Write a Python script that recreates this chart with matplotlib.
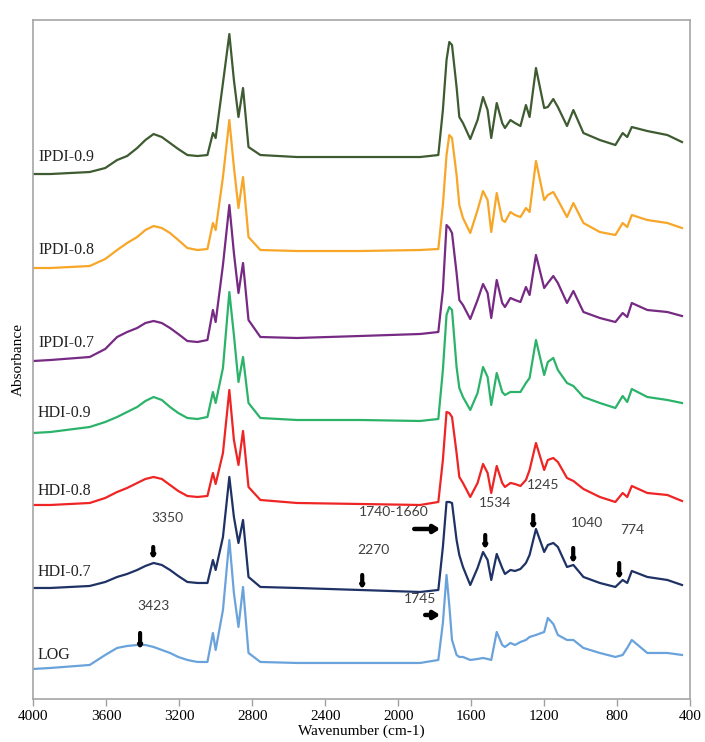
#!/usr/bin/env python3
"""
FTIR spectra of LOG and the HDI / IPDI cured samples (stacked, offset)
"""

import numpy as np
import matplotlib
matplotlib.use('Agg')
import matplotlib.pyplot as plt

# Wavenumber grid (cm-1) the spectra were read at
wavenumber = [4000, 3905, 3690, 3605, 3540, 3485, 3430, 3385, 3340, 3295, 3250, 3205, 3155, 3100,
              3045, 3015, 3000, 2960, 2925, 2900, 2875, 2850, 2820, 2755, 2555, 2210, 1880,
              1780, 1755, 1735, 1720, 1705, 1680, 1665, 1645, 1605, 1565,
              1535, 1510, 1490, 1460, 1430, 1415, 1385, 1360, 1330, 1300,
              1280, 1245, 1200, 1180, 1150, 1125, 1075, 1040, 985, 895,
              810, 770, 745, 720, 635, 525, 445]

# Offset absorbance (x0.01 a.u.) of each spectrum
ipdi_09 = [525, 525, 527, 531, 539, 543, 551, 559, 565, 562, 556, 550, 544, 543,
           544, 566, 561, 616, 665, 619, 582, 611, 552, 544, 542, 542, 542,
           544, 589, 639, 657, 654, 612, 582, 576, 560, 579,
           602, 589, 561, 596, 576, 571, 579, 576, 573, 594,
           582, 631, 591, 592, 600, 592, 573, 589, 566, 559,
           554, 566, 562, 572, 568, 564, 557]
ipdi_08 = [431, 431, 433, 440, 449, 456, 462, 469, 473, 471, 466, 459, 451, 449,
           450, 476, 469, 522, 579, 532, 491, 522, 462, 449, 448, 448, 449,
           450, 494, 544, 564, 561, 524, 494, 481, 466, 489,
           508, 499, 467, 506, 479, 477, 487, 484, 482, 491,
           487, 538, 499, 504, 507, 499, 482, 496, 476, 467,
           464, 476, 472, 484, 479, 476, 471]
ipdi_07 = [338, 339, 342, 350, 362, 367, 371, 376, 378, 376, 371, 365, 358, 357,
           359, 389, 377, 434, 494, 446, 406, 436, 379, 362, 361, 363, 365,
           367, 409, 474, 471, 466, 426, 399, 394, 380, 399,
           415, 406, 381, 419, 396, 392, 401, 399, 397, 412,
           404, 444, 411, 416, 423, 416, 396, 408, 387, 381,
           377, 386, 382, 396, 389, 387, 383]
hdi_09 = [266, 267, 272, 277, 282, 287, 292, 298, 302, 299, 292, 286, 281, 280,
          282, 307, 296, 331, 407, 364, 317, 342, 296, 281, 279, 279, 278,
          280, 329, 384, 392, 389, 332, 311, 302, 289, 306,
          332, 322, 294, 326, 307, 304, 307, 307, 307, 316,
          321, 359, 324, 337, 341, 329, 316, 313, 302, 296,
          291, 303, 297, 310, 302, 299, 296]
hdi_08 = [194, 194, 196, 201, 207, 211, 216, 220, 222, 220, 214, 208, 203, 202,
          203, 226, 215, 246, 309, 259, 234, 268, 212, 199, 196, 195, 194,
          197, 239, 287, 286, 282, 246, 222, 216, 202, 216,
          235, 226, 206, 233, 216, 212, 216, 215, 213, 219,
          229, 256, 229, 239, 241, 237, 221, 218, 210, 202,
          197, 206, 202, 213, 206, 204, 198]
hdi_07 = [111, 111, 113, 117, 122, 125, 129, 133, 136, 134, 129, 123, 117, 116,
          116, 139, 129, 162, 222, 182, 156, 179, 122, 112, 111, 109, 107,
          109, 152, 197, 197, 196, 159, 144, 132, 114, 131,
          147, 139, 119, 145, 131, 125, 129, 128, 130, 136,
          144, 170, 147, 154, 156, 152, 132, 134, 122, 116,
          112, 119, 116, 128, 122, 119, 114]
log = [30, 31, 34, 44, 51, 53, 54, 54, 52, 49, 46, 42, 39, 37,
       37, 66, 49, 89, 159, 106, 72, 112, 46, 37, 36, 36, 36,
       39, 76, 124, 94, 59, 44, 42, 42, 39, 40,
       41, 40, 39, 67, 54, 52, 56, 54, 57, 59,
       62, 64, 67, 81, 75, 64, 59, 59, 51, 46,
       42, 44, 51, 59, 46, 46, 44]

names = ['IPDI-0.9', 'IPDI-0.8', 'IPDI-0.7', 'HDI-0.9', 'HDI-0.8', 'HDI-0.7', 'LOG']
spectra = [ipdi_09, ipdi_08, ipdi_07, hdi_09, hdi_08, hdi_07, log]
colors = ['#3e5b31', '#f8a628', '#762a83', '#2cb36a', '#ee2524', '#1f3265', '#6aa3dc']
label_y = [5.42, 4.49, 3.56, 2.86, 2.08, 1.27, 0.44]

# Peak annotations: text, position
peak_texts = ['3350', '3423', '2270', '1740-1660', '1745', '1534', '1245', '1040', '774']
peak_text_pos = [(3266, 1.81), (3343, 0.93), (2137, 1.49), (2027, 1.87), (1879, 1.00),
                 (1468, 1.96), (1205, 2.14), (964, 1.76), (718, 1.69)]
# Marker bars above peaks (wavenumber, top, bottom)
bars = [(3342, 1.52, 1.40), (3414, 0.66, 0.50), (2197, 1.24, 1.10), (1523, 1.64, 1.50),
        (1260, 1.84, 1.70), (1041, 1.51, 1.36), (789, 1.36, 1.20)]
# Horizontal arrows (from wn, to wn, height)
arrows = [(1912, 1770, 1.70), (1852, 1770, 0.84)]

plt.rcParams['font.family'] = ['Liberation Serif', 'DejaVu Serif']

fig = plt.figure(figsize=(7.05, 7.42), dpi=100)
ax = fig.add_axes([0.047, 0.058, 0.932, 0.915])

for name, vals, color, ly in zip(names, spectra, colors, label_y):
    ax.plot(wavenumber, np.array(vals) / 100.0, color=color, lw=1.6,
            solid_joinstyle='round')
    ax.text(3973, ly, name, fontsize=11.5, ha='left', va='center', color='#222222')

for txt, (wx, wy) in zip(peak_texts, peak_text_pos):
    ax.text(wx, wy, txt, fontsize=10, family='Lato', ha='center', va='center', color='#404040')

for wx, top, bot in bars:
    ax.annotate('', xy=(wx, bot), xytext=(wx, top),
                arrowprops=dict(arrowstyle='-|>,head_length=0.12,head_width=0.08',
                                lw=3.0, color='black', shrinkA=0, shrinkB=0))

for x0, x1, yy in arrows:
    ax.annotate('', xy=(x1, yy), xytext=(x0, yy),
                arrowprops=dict(arrowstyle='-|>,head_length=0.35,head_width=0.22',
                                lw=3.2, color='black', shrinkA=0, shrinkB=0))

ax.set_xlim(4000, 400)
ax.set_ylim(0, 6.79)
ax.set_xticks(np.arange(400, 4001, 400))
ax.set_yticks([])
ax.tick_params(axis='x', direction='out', length=5, width=1, color='#a0a0a0',
               labelsize=11, pad=3)
for sp in ax.spines.values():
    sp.set_color('#a6a6a6')
    sp.set_linewidth(1.2)

ax.set_xlabel('Wavenumber (cm-1)', fontsize=11, labelpad=1)
ax.set_ylabel('Absorbance', fontsize=11, labelpad=6)

fig.savefig('out.png', dpi=100)
